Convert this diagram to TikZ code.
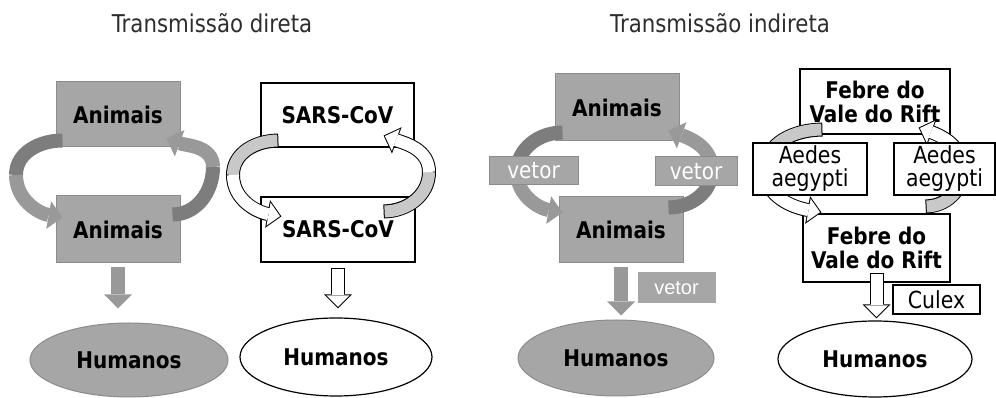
\documentclass[tikz,border=0pt]{standalone}
\usepackage{fontspec}
\setmainfont[FakeStretch=0.87]{DejaVu Sans}
\newfontfamily\arialfont{Liberation Sans}
\usepackage{tikz}
\usetikzlibrary{positioning,shapes.geometric,arrows.meta}
\definecolor{boxgray}{RGB}{166,166,166}
\definecolor{edgegray}{RGB}{140,140,140}
\definecolor{bandgray}{RGB}{153,153,153}
\definecolor{tailgray}{RGB}{125,125,125}
\definecolor{backgray}{RGB}{200,200,200}
\definecolor{titlegray}{RGB}{45,45,45}

\begin{document}
\begin{tikzpicture}[x=1pt,y=1pt,
                      basenode/.style={inner sep=0pt,align=center,font={\fontsize{23}{24}\selectfont\bfseries}},
                      graybox/.style={basenode,rectangle,draw=edgegray,fill=boxgray,line width=1pt},
                      whitebox/.style={basenode,rectangle,draw=black,fill=white,line width=1.2pt},
                      grayoval/.style={basenode,ellipse,draw=edgegray,fill=boxgray,line width=1pt},
                      whiteoval/.style={basenode,ellipse,draw=black,fill=white,line width=1.2pt},
                      vectag/.style={basenode,rectangle,draw=edgegray,fill=boxgray,line width=1pt,text=white,font={\fontsize{23}{24}\selectfont}},
                      hosttag/.style={basenode,rectangle,draw=black,fill=white,line width=1.2pt,font={\fontsize{23.5}{23}\selectfont}},
                      headline/.style={font={\fontsize{24.5}{28}\selectfont},text=titlegray},
                      band/.style={line width=14pt},
                      inband/.style={line width=12pt},
                      bandtip/.style={-{Triangle[length=14pt,width=28pt,line width=0pt]}},
                      intip/.style={shorten >=1.41pt,-{Triangle[length=11.6pt,width=23.2pt,line width=0pt]}}]
    \useasboundingbox (0,0) rectangle (996,398);
    \node[headline] (t1) at (212,375) {Transmissão direta};
    \node[headline] (t2) at (720,375) {Transmissão indireta};
    % direta
    \node[graybox,minimum width=124pt,minimum height=65pt] (a1top) at (118,283.5) {Animais};
    \node[graybox,minimum width=124pt,minimum height=67pt] (a1bot) at (118,168.5) {Animais};
    \node[grayoval,minimum width=198pt,minimum height=74pt] (h1) at (129,38) {Humanos};
    \node[whitebox,minimum width=153pt,minimum height=64pt] (s2top) at (337.5,283) {SARS-CoV};
    \node[whitebox,minimum width=154pt,minimum height=65pt] (s2bot) at (338,168.5) {SARS-CoV};
    \node[whiteoval,minimum width=192pt,minimum height=78pt] (h2) at (336,41) {Humanos};
    % indireta
    \node[graybox,minimum width=124pt,minimum height=67pt] (a3top) at (617,290.5) {Animais};
    \node[graybox,minimum width=124pt,minimum height=66pt] (a3bot) at (621,168) {Animais};
    \node[grayoval,minimum width=196pt,minimum height=76pt] (h3) at (616,40) {Humanos};
    \node[whitebox,minimum width=150pt,minimum height=65pt] (r4top) at (875,296.5) {Febre do\\Vale do Rift};
    \node[whitebox,minimum width=147pt,minimum height=68pt] (r4bot) at (876.5,150) {Febre do\\Vale do Rift};
    \node[whiteoval,minimum width=194pt,minimum height=76pt] (h4) at (875,39) {Humanos};
    % loop ends
    \coordinate (a1-out) at ([shift={(7,7)}]a1top.south west);
    \coordinate (a1-in) at ([shift={(7,-22)}]a1bot.north west);
    \coordinate (a1-back) at ([shift={(-8,-19)}]a1bot.north east);
    \coordinate (a1-up) at ([shift={(-14,9)}]a1top.south east);
    \coordinate (s2-out) at ([shift={(18,7)}]s2top.south west);
    \coordinate (s2-in) at ([shift={(21,-20)}]s2bot.north west);
    \coordinate (s2-back) at ([shift={(-32,-15)}]s2bot.north east);
    \coordinate (s2-up) at ([shift={(-31,12)}]s2top.south east);
    \coordinate (a3-out) at ([shift={(8,9)}]a3top.south west);
    \coordinate (a3-in) at ([shift={(4,-16)}]a3bot.north west);
    \coordinate (a3-back) at ([shift={(-15,-11)}]a3bot.north east);
    \coordinate (a3-up) at ([shift={(-11,11)}]a3top.south east);
    \coordinate (r4-out) at ([shift={(23,5)}]r4top.south west);
    \coordinate (r4-in) at ([shift={(19,1)}]r4bot.north west);
    \coordinate (r4-back) at ([shift={(-25,7)}]r4bot.north east);
    \coordinate (r4-up) at ([shift={(-32,7)}]r4top.south east);
    \coordinate (l1) at (16,223);
    \coordinate (r1) at (213,231);
    \coordinate (l2) at (233,223);
    \coordinate (r2) at (429,226);
    \coordinate (l3) at (517,226);
    \coordinate (r3) at (712,228);
    \coordinate (l4) at (765,228);
    \coordinate (r4) at (963,228);
    % gray loops
    \draw[band,draw=tailgray] (a1-out) to[out=180,in=90] (l1);
    \draw[band,bandtip,draw=bandgray] (l1) to[out=-90,in=170] (a1-in);
    \draw[band,draw=tailgray] (a1-back) to[out=0,in=-90] (r1);
    \draw[band,bandtip,draw=bandgray] (r1) to[out=90,in=-20] (a1-up);
    \draw[band,draw=tailgray] (a3-out) to[out=180,in=90] (l3);
    \draw[band,bandtip,draw=bandgray] (l3) to[out=-90,in=170] (a3-in);
    \draw[band,draw=tailgray] (a3-back) to[out=0,in=-90] (r3);
    \draw[band,bandtip,draw=bandgray] (r3) to[out=90,in=-20] (a3-up);
    % white loops
    \draw[band,bandtip] (s2-out) to[out=180,in=90] (l2) to[out=-90,in=170] (s2-in);
    \draw[inband,draw=backgray,shorten <=1pt] (s2-out) to[out=180,in=90] (l2);
    \draw[inband,intip,draw=white] (l2) to[out=-90,in=170] (s2-in);
    \draw[band,bandtip] (s2-back) to[out=0,in=-90] (r2) to[out=90,in=-20] (s2-up);
    \draw[inband,draw=backgray,shorten <=1pt] (s2-back) to[out=0,in=-90] (r2);
    \draw[inband,intip,draw=white] (r2) to[out=90,in=-20] (s2-up);
    \draw[band,bandtip] (r4-out) to[out=180,in=90] (l4) to[out=-90,in=170] (r4-in);
    \draw[inband,draw=backgray,shorten <=1pt] (r4-out) to[out=180,in=90] (l4);
    \draw[inband,intip,draw=white] (l4) to[out=-90,in=170] (r4-in);
    \draw[band,bandtip] (r4-back) to[out=0,in=-90] (r4) to[out=90,in=-20] (r4-up);
    \draw[inband,draw=backgray,shorten <=1pt] (r4-back) to[out=0,in=-90] (r4);
    \draw[inband,intip,draw=white] (r4) to[out=90,in=-20] (r4-up);
    % vectors
    \node[vectag,minimum width=89pt,minimum height=28pt] (v3l) at (533.5,227) {vetor};
    \node[vectag,minimum width=82pt,minimum height=29pt] (v3r) at (696,226.5) {vetor};
    \node[hosttag,minimum width=114pt,minimum height=52pt] (e4l) at (810,229) {Aedes\\aegypti};
    \node[hosttag,minimum width=101pt,minimum height=52pt] (e4r) at (944.5,229) {Aedes\\aegypti};
    % to humans
    \draw[band,bandtip,draw=bandgray,shorten <=4pt,shorten >=14pt] (a1bot.south) -- (a1bot.south |- h1.north);
    \draw[band,bandtip,shorten <=5pt,shorten >=9pt] (s2bot.south) -- (s2bot.south |- h2.north);
    \draw[inband,intip,draw=white,shorten <=6pt,shorten >=10.41pt] (s2bot.south) -- (s2bot.south |- h2.north);
    \draw[band,bandtip,draw=bandgray,shorten <=4pt,shorten >=4pt] (a3bot.south) -- (a3bot.south |- h3.north);
    \draw[band,bandtip,shorten <=-10pt,shorten >=2pt] (r4bot.south) -- (r4bot.south |- h4.north);
    \draw[inband,intip,draw=white,shorten <=-9pt,shorten >=3.41pt] (r4bot.south) -- (r4bot.south |- h4.north);
    \node[vectag,draw=boxgray,minimum width=77pt,minimum height=30pt,font={\arialfont\fontsize{20}{22}\selectfont}] (v3b) at (676.5,110) {vetor};
    \node[hosttag,minimum width=87pt,minimum height=29pt] (c4) at (936.5,98.5) {Culex};
  \end{tikzpicture}
\end{document}
